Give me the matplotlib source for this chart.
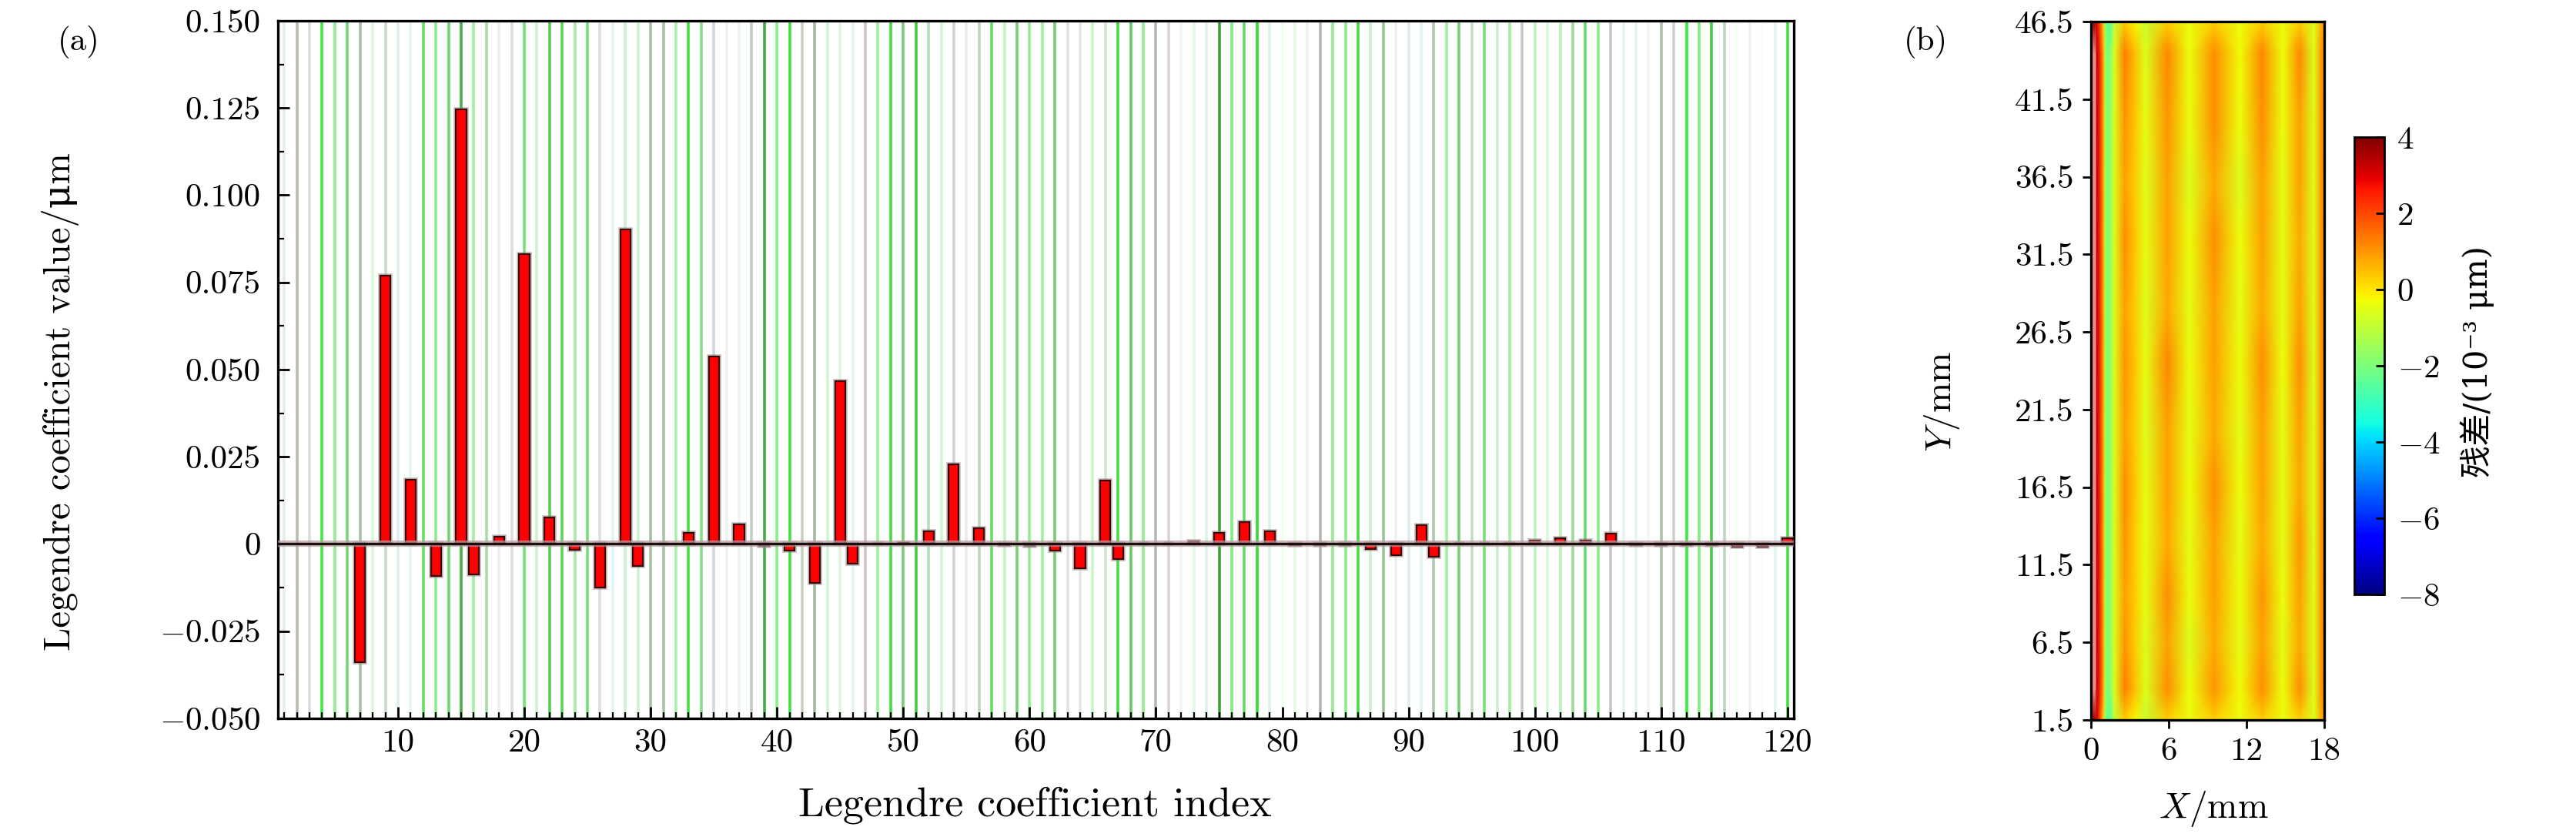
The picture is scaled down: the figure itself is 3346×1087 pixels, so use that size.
import numpy as np
import matplotlib
matplotlib.use('Agg')
import matplotlib.pyplot as plt
from matplotlib import patheffects as pe
from matplotlib.colors import Normalize
from matplotlib.cm import ScalarMappable

plt.rcParams['font.family'] = ['cmr10', 'DejaVu Serif', 'Noto Sans CJK SC']
plt.rcParams['mathtext.fontset'] = 'cm'
plt.rcParams['axes.unicode_minus'] = True

# ---- panel (a): Legendre coefficients ----
coef_index = [7, 9, 11, 13, 15, 16, 18, 20, 22, 24,
              26, 28, 29, 31, 33, 35, 37, 39, 41, 43,
              45, 46, 48, 50, 52, 54, 56, 58, 60, 62,
              64, 66, 67, 69, 71, 73, 75, 77, 79, 81,
              83, 85, 87, 89, 91, 92, 94, 96, 98, 100,
              102, 104, 106, 108, 110, 112, 114, 116, 118, 120]
coef_value = [-0.0338, 0.0770, 0.0185, -0.0092, 0.1246, -0.0087, 0.0021, 0.0831, 0.0076, -0.0016,
              -0.0124, 0.0902, -0.0062, 0.0002, 0.0032, 0.0538, 0.0056, -0.0005, -0.0018, -0.0111,
              0.0466, -0.0056, 0.0002, 0.0003, 0.0037, 0.0229, 0.0045, -0.0004, -0.0005, -0.0019,
              -0.0070, 0.0182, -0.0043, 0.0001, 0.0002, 0.0008, 0.0031, 0.0062, 0.0037, -0.0003,
              -0.0004, -0.0004, -0.0015, -0.0033, 0.0054, -0.0036, 0.0001, 0.0002, 0.0002, 0.0010,
              0.0017, 0.0010, 0.0030, -0.0003, -0.0004, -0.0004, -0.0004, -0.0007, -0.0007, 0.0016]

# background stripe at every index 1..120
stripe_index = list(range(1, 121))
stripe_color = [
    '#e2efe2', '#b7bbb0', '#dcdcdc', '#44e844', '#8fef8f', '#6fdc6f', '#a8c0a0', '#d8f8d8', '#c8dcc8', '#dcf0f0',
    '#e6f6f6', '#66dd66', '#8eec8e', '#6ed86e', '#4aad4a', '#a8eea8', '#a8dca8', '#eeeeee', '#e0dcdc', '#78e078',
    '#ccf5cc', '#55cc55', '#5ad45a', '#a8eca8', '#77dd77', '#dedede', '#e0f4f4', '#ccf2cc', '#ccf5cc', '#a8c0a0',
    '#a8c4a4', '#aaf0aa', '#44e044', '#88dd88', '#d4d4de', '#f0f0f0', '#eaf8ea', '#c4ccc4', '#44aa44', '#88f088',
    '#44e044', '#c8d0c0', '#a8b8a0', '#d0f5d0', '#e0f5e0', '#e6f2f2', '#d0c4c8', '#a0f0a0', '#44dd44', '#77cc77',
    '#44cc44', '#b8dcb8', '#d0f8d0', '#d4d0d8', '#eaeaea', '#bbd8bb', '#66dd66', '#c0f5c0', '#77d077', '#90ee90',
    '#a0f0a0', '#77cc77', '#e0e0e8', '#e8e8e8', '#c8f5c8', '#d0e8d0', '#44dd44', '#66cc66', '#90f090', '#b8b8b8',
    '#dcd4d4', '#eef6f6', '#e6f8e6', '#d8f4e8', '#3e9e3e', '#80ee80', '#66dd66', '#33dd33', '#d8f4e4', '#f0fff0',
    '#e4fae4', '#eeeeee', '#bab4b0', '#90ee90', '#88ee88', '#44dd44', '#ccf0cc', '#99c499', '#eeeeee', '#e0ecec',
    '#e0f4f0', '#b0c8b0', '#a0f0a0', '#77d077', '#c0e0c0', '#77e077', '#c8f0c8', '#a0f0a0', '#c8c8c8', '#c0f5c0',
    '#d8f8d8', '#c0f0c0', '#99dd99', '#66dd66', '#88ee88', '#ccc4c8', '#e4f4f4', '#e4f4f4', '#f0f8f0', '#b0c0a8',
    '#d0d4cc', '#33ee33', '#80ee80', '#44cc44', '#c0d4c0', '#f0fff0', '#f2f2f2', '#f6fff6', '#e4f4f4', '#44dd44']

y_ticks_a = [-0.05, -0.025, 0, 0.025, 0.05, 0.075, 0.1, 0.125, 0.15]
y_labels_a = [r'$-0.050$', r'$-0.025$', '0', '0.025', '0.050', '0.075', '0.100', '0.125', '0.150']
x_ticks_a = [10, 20, 30, 40, 50, 60, 70, 80, 90, 100, 110, 120]

# ---- panel (b): residual map (10^-3 um) ----
x_mm = [0, 0.1, 0.35, 0.45, 0.75, 0.95, 1.1, 1.3, 1.55, 1.8, 2.6, 3.4,
        4.2, 5.9, 7.6, 9.5, 11.5, 13.2, 14.8, 16.1, 17.2, 17.7, 18]
y_mm = [1.5, 3.5, 6.5, 9.5, 13, 16.5, 20, 24.5, 28, 32.5, 36, 40, 44.5, 46.5]
residual = [
    [4.0, 3.6, 3.6, 3.0, 1.6, 0.3, -1.4, -2.5, -2.2, -1.0, 0.3, -0.2, -0.9, 0.3, -0.4, 0.3, -0.4, 0.3, -0.4, 0.3, -0.6, 0.6, 1.0],
    [4.0, 9, 9, 3.3, 2.2, 0.9, -1.2, -2.1, -1.7, -0.6, 1.3, 0.5, -0.6, 1.1, -0.4, 1.0, -0.3, 1.1, -0.4, 1.1, -0.6, 0.9, 1.2],
    [4.0, 9, 9, 3.3, 2.2, 0.9, -1.2, -2.0, -1.6, -0.6, 1.0, 0.3, -0.6, 0.9, -0.6, 0.8, -0.5, 0.9, -0.5, 0.8, -0.6, 0.9, 1.2],
    [4.0, 9, 9, 3.3, 2.2, 0.9, -1.2, -2.0, -1.6, -0.6, 0.9, 0.3, -0.5, 1.1, -0.4, 0.9, -0.4, 1.0, -0.4, 0.9, -0.6, 0.9, 1.2],
    [4.0, 9, 9, 3.3, 2.2, 0.9, -1.2, -2.0, -1.6, -0.6, 1.0, 0.3, -0.5, 0.8, -0.5, 0.9, -0.5, 0.8, -0.5, 1.0, -0.6, 0.9, 1.2],
    [4.0, 9, 9, 3.3, 2.2, 0.9, -1.2, -2.0, -1.6, -0.6, 1.1, 0.4, -0.5, 0.9, -0.4, 1.1, -0.4, 0.9, -0.5, 0.8, -0.6, 0.9, 1.2],
    [4.0, 9, 9, 3.3, 2.2, 0.9, -1.2, -2.0, -1.6, -0.6, 0.9, 0.3, -0.6, 0.9, -0.5, 0.8, -0.5, 0.9, -0.5, 0.9, -0.6, 0.9, 1.2],
    [4.0, 9, 9, 3.3, 2.2, 0.9, -1.2, -2.0, -1.6, -0.6, 1.0, 0.4, -0.5, 1.2, -0.4, 0.9, -0.4, 1.1, -0.4, 1.1, -0.6, 0.9, 1.2],
    [4.0, 9, 9, 3.3, 2.2, 0.9, -1.2, -2.0, -1.6, -0.6, 0.9, 0.3, -0.6, 0.8, -0.5, 0.9, -0.5, 0.8, -0.5, 0.9, -0.6, 0.9, 1.2],
    [4.0, 9, 9, 3.3, 2.2, 0.9, -1.2, -2.0, -1.6, -0.6, 1.1, 0.4, -0.5, 0.9, -0.4, 1.1, -0.4, 0.9, -0.5, 0.8, -0.6, 0.9, 1.2],
    [4.0, 9, 9, 3.3, 2.2, 0.9, -1.2, -2.0, -1.6, -0.6, 0.9, 0.3, -0.6, 0.9, -0.6, 0.8, -0.6, 0.9, -0.5, 0.9, -0.6, 0.9, 1.2],
    [4.0, 9, 9, 3.3, 2.2, 0.9, -1.2, -2.0, -1.6, -0.6, 1.0, 0.4, -0.5, 1.0, -0.4, 1.1, -0.4, 1.1, -0.4, 0.9, -0.6, 0.9, 1.2],
    [4.0, 9, 9, 3.3, 2.2, 0.9, -1.2, -2.1, -1.7, -0.6, 1.3, 0.5, -0.6, 1.2, -0.4, 1.1, -0.3, 1.2, -0.4, 1.2, -0.6, 0.9, 1.2],
    [4.0, 3.6, 3.6, 3.0, 1.6, 0.3, -1.4, -2.5, -2.2, -1.0, 0.3, -0.2, -0.9, 0.3, -0.4, 0.3, -0.4, 0.3, -0.4, 0.3, -0.6, 0.6, 1.0],
]
x_ticks_b = [0, 6, 12, 18]
y_ticks_b = [1.5, 6.5, 11.5, 16.5, 21.5, 26.5, 31.5, 36.5, 41.5, 46.5]
cbar_ticks = [-8, -6, -4, -2, 0, 2, 4]
cbar_labels = [r'$-8$', r'$-6$', r'$-4$', r'$-2$', '0', '2', '4']

fig = plt.figure(figsize=(33.46, 10.87), dpi=100)

# ---------------- (a) ----------------
ax = fig.add_axes([0.1079, 0.1417, 0.5885, 0.8335])
ax.vlines(stripe_index, -0.05, 0.15, colors=stripe_color, linewidth=2.6, zorder=1)
ax.bar(coef_index, coef_value, width=0.8, color='#ff0000', edgecolor='#3a0505',
       linewidth=1.6, zorder=3,
       path_effects=[pe.withStroke(linewidth=4, foreground='#9a9090', alpha=0.6)])
ax.axhline(0, color='#1a1010', linewidth=2.4, zorder=4,
           path_effects=[pe.withStroke(linewidth=6, foreground='#b89aa0', alpha=0.7)])
ax.set_xlim(0.5, 120.5)
ax.set_ylim(-0.05, 0.15)
ax.set_yticks(y_ticks_a)
ax.set_yticklabels(y_labels_a)
ax.set_yticks(np.arange(-0.05, 0.1501, 0.0125), minor=True)
ax.set_xticks(x_ticks_a)
ax.set_xticks(stripe_index, minor=True)
ax.tick_params(axis='both', which='major', direction='in', length=11, width=2,
               labelsize=31)
ax.tick_params(axis='y', which='major', pad=16)
ax.tick_params(axis='x', which='major', pad=10)
ax.tick_params(axis='both', which='minor', direction='in', length=6, width=1.6)
for s in ax.spines.values():
    s.set_linewidth(2.4)
fig.text(0.0236, 0.52, 'Legendre coefficient value/μm', rotation=90,
         ha='center', va='center', fontsize=35)
fig.text(0.4018, 0.038, 'Legendre coefficient index', ha='center', va='center', fontsize=39)
fig.text(0.0305, 0.950, '(a)', ha='center', va='center', fontsize=31)

# ---------------- (b) ----------------
cmap = plt.get_cmap('jet').with_extremes(over='#f08a8a')
norm = Normalize(vmin=-8, vmax=4)
bx = fig.add_axes([0.8117, 0.1398, 0.0906, 0.8344])
X, Y = np.meshgrid(x_mm, y_mm)
bx.pcolormesh(X, Y, np.array(residual), cmap=cmap, norm=norm, shading='gouraud')
bx.set_xlim(0, 18)
bx.set_ylim(1.5, 46.5)
bx.set_xticks(x_ticks_b)
bx.set_yticks(y_ticks_b)
bx.tick_params(direction='out', length=8, width=2, labelsize=31, pad=8)
for s in bx.spines.values():
    s.set_linewidth(2.4)
fig.text(0.7538, 0.52, r'$Y$/mm', rotation=90, ha='center', va='center', fontsize=34)
fig.text(0.8592, 0.034, r'$X$/mm', ha='center', va='center', fontsize=34)
fig.text(0.7475, 0.950, '(b)', ha='center', va='center', fontsize=31)

cax = fig.add_axes([0.9139, 0.2898, 0.01166, 0.5464])
cb = fig.colorbar(ScalarMappable(norm=norm, cmap=cmap), cax=cax)
cb.set_ticks(cbar_ticks)
cb.set_ticklabels(cbar_labels)
cb.outline.set_linewidth(2)
cax.tick_params(direction='in', length=8, width=2, labelsize=31, pad=12)
fig.text(0.9617, 0.568, '残差/(10⁻³ μm)', rotation=90, ha='center', va='center',
         fontsize=30, family=['DejaVu Serif', 'Noto Sans CJK SC'])

fig.savefig('out.png', dpi=100)
